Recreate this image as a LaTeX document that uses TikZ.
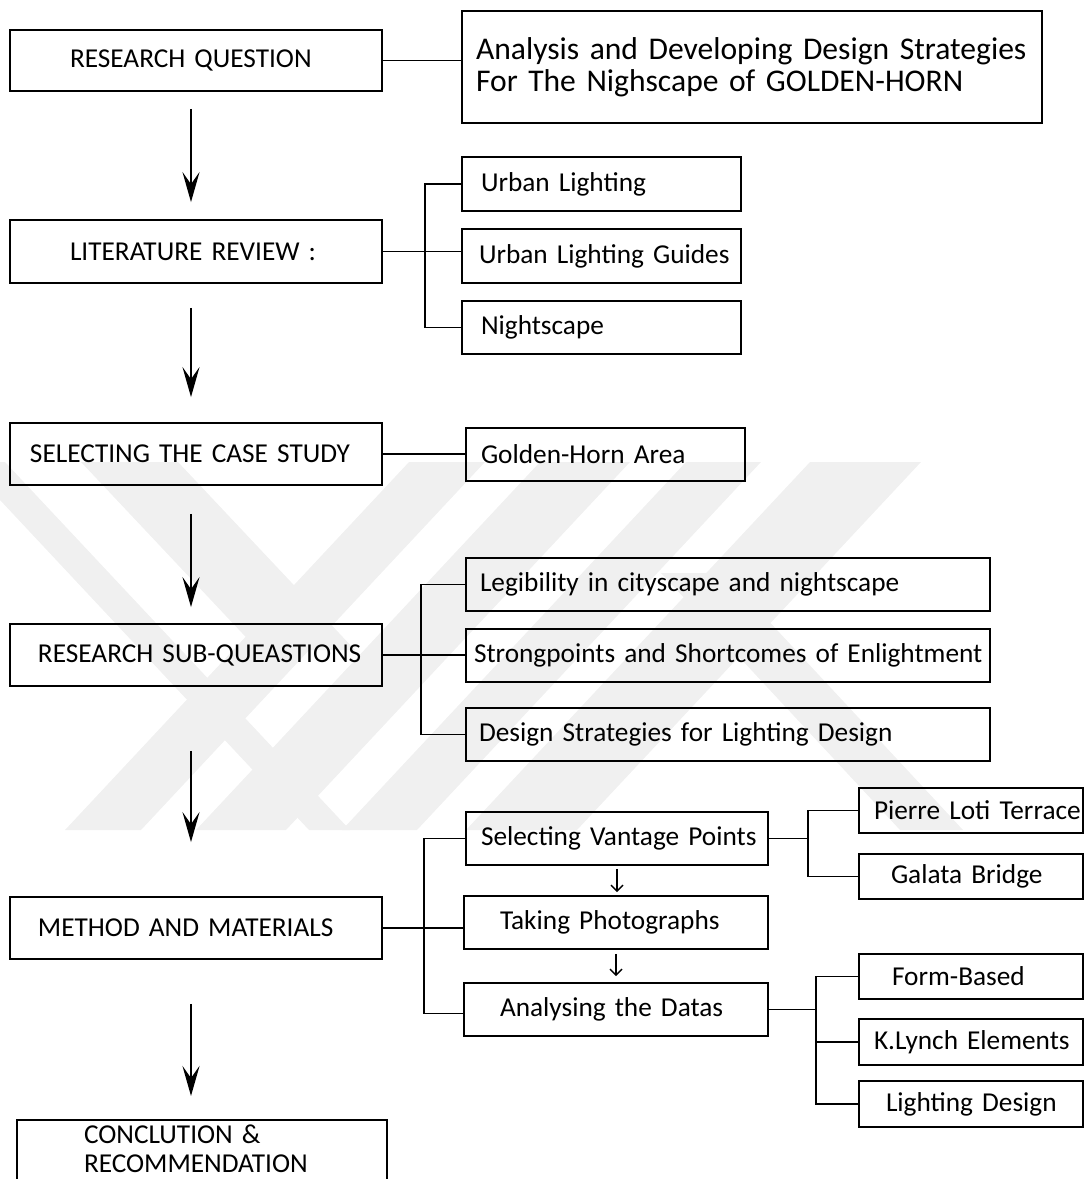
\documentclass[tikz,border=0pt]{standalone}
\usepackage{fontspec}
\setmainfont{Carlito}
\usetikzlibrary{arrows.meta, calc}
\newcommand\boxfont{\fontsize{13.65}{16}\selectfont}
\tikzset{%
    box/.style={draw, line width=0.9pt, align=left, inner ysep=0pt, font=\boxfont},
    bx/.style n args={3}{box, text width=#1, inner xsep=#2, minimum height=#3},
    conn/.style={line width=0.8pt},
    bigarr/.style={line width=1.4pt, -{Stealth[length=15pt, width=8.5pt, inset=6pt]}},
    smallarr/.style={line width=0.7pt, -{Straight Barb[length=3pt, width=6pt]}},
    wmark/.style={fill=black!6},
}
\begin{document}
\begin{tikzpicture}[x=0.5pt, y=-0.5pt]
    \useasboundingbox (0,0) rectangle (1084,1179);
    % watermark
    \fill[wmark] (409,462)--(485,462)--(141,830)--(65,830)--cycle;
    \fill[wmark] (540,462)--(630,462)--(286,830)--(196,830)--cycle;
    \fill[wmark] (686,462)--(761,462)--(417,830)--(342,830)--cycle;
    \fill[wmark] (810,462)--(921,462)--(577,830)--(466,830)--cycle;
    \fill[wmark] (0,462)--(5,462)--(350,830)--(309,830)--(0,500)--cycle;
    \fill[wmark] (81,462)--(178,462)--(355,650)--(258,650)--cycle;
    \fill[wmark] (661,573)--(724,573)--(963,830)--(900,830)--cycle;
    % main column
    \coordinate (ax) at (191,0);
    \node[bx={126pt}{30pt}{30.5pt}] (rq) at (196,60.5) {RESEARCH QUESTION};
    \node[bx={276pt}{7pt}{56pt}, font=\fontsize{15.8}{16}\selectfont] (aim) at (752,67)
        {\mbox{Analysis and Developing Design Strategies}\\For The Nighscape of GOLDEN-HORN};
    \node[bx={126pt}{30pt}{31.5pt}] (lit) at (196,251.5) {LITERATURE REVIEW :};
    \node[bx={120.5pt}{9.5pt}{27pt}] (ul1) at (601.5,184) {Urban Lighting};
    \node[bx={122.5pt}{8.5pt}{27pt}] (ul2) at (601.5,256) {\mbox{Urban Lighting Guides}};
    \node[bx={120.5pt}{9.5pt}{26.5pt}] (ns) at (601.5,327.5) {Nightscape};
    \node[bx={166pt}{10pt}{31pt}] (cs) at (196,454) {SELECTING THE CASE STUDY};
    \node[bx={124.5pt}{7.5pt}{26.5pt}] (gh) at (605.5,454.5) {Golden-Horn Area};
    \node[bx={158pt}{14pt}{31pt}] (sq) at (196,655) {\mbox{RESEARCH SUB-QUEASTIONS}};
    \node[bx={248pt}{7pt}{26.5pt}] (leg) at (728,584.5) {Legibility in cityscape and nightscape};
    \node[bx={254pt}{4pt}{26.5pt}] (str) at (728,655.5) {\mbox{Strongpoints and Shortcomes of Enlightment}};
    \node[bx={249pt}{6.5pt}{26.5pt}] (dsg) at (728,734.5) {Design Strategies for Lighting Design};
    \node[bx={158pt}{14pt}{31pt}] (mm) at (196,928) {METHOD AND MATERIALS};
    \node[bx={136pt}{7.5pt}{26.5pt}] (vp) at (617,838.5) {\mbox{Selecting Vantage Points}};
    \node[bx={116pt}{18pt}{26.5pt}] (tp) at (616,922.5) {Taking Photographs};
    \node[bx={116pt}{18pt}{26.5pt}] (ad) at (616,1009.5) {Analysing the Datas};
    \node[bx={97pt}{7.5pt}{22.5pt}] (plt) at (971,810.5) {\mbox{Pierre Loti Terrace}};
    \node[bx={80pt}{16pt}{22.5pt}] (gb) at (971,876.5) {Galata Bridge};
    \node[bx={79pt}{16.5pt}{22.5pt}] (fb) at (971,976.5) {Form-Based};
    \node[bx={97pt}{7.5pt}{23pt}] (kl) at (971,1042) {\mbox{K.Lynch Elements}};
    \node[bx={85pt}{13.5pt}{23pt}] (ld) at (971,1104) {\mbox{Lighting Design}};
    \node[box, font=\fontsize{13.65}{14.5}\selectfont, text width=118pt, inner xsep=33.5pt, inner ysep=2.5pt,
          text depth=40pt, anchor=north] (cr) at (202,1119) {CONCLUTION \&\\RECOMMENDATION};
    % arrows down the main column
    \draw[bigarr, shorten <=8.5pt, shorten >=8.5pt] (rq.south -| ax) -- (lit.north -| ax);
    \draw[bigarr, shorten <=12pt, shorten >=12.5pt] (lit.south -| ax) -- (cs.north -| ax);
    \draw[bigarr, shorten <=14pt, shorten >=8pt] (cs.south -| ax) -- (sq.north -| ax);
    \draw[bigarr, shorten <=32pt, shorten >=27pt] (sq.south -| ax) -- (mm.north -| ax);
    \draw[bigarr, shorten <=22pt, shorten >=11.5pt] (mm.south -| ax) -- (cr.north -| ax);
    % branches
    \draw[conn] (rq.east) -- (rq.east -| aim.west);
    \draw[conn] (lit.east) -- (lit.east -| ul2.west);
    \draw[conn] (ul1.west) -- ++(-18pt,0) |- (ns.west);
    \draw[conn] (cs.east) -- (cs.east -| gh.west);
    \draw[conn] (sq.east) -- (sq.east -| str.west);
    \draw[conn] (leg.west) -- ++(-22pt,0) |- (dsg.west);
    \draw[conn] (mm.east) -- (mm.east -| tp.west);
    \draw[conn] (vp.west) -- ++(-20.5pt,0) |- ([yshift=-2pt]ad.west);
    \draw[conn] (vp.east) -- ([xshift=-25pt]vp.east -| plt.west);
    \draw[conn] (plt.west) -- ++(-25pt,0) |- (gb.west);
    \draw[conn] (ad.east) -- ([xshift=-21pt]ad.east -| kl.west);
    \draw[conn] (fb.west) -- ++(-21pt,0) |- (ld.west);
    \draw[conn] (kl.west) -- ++(-21pt,0);
    \draw[smallarr, shorten <=1.5pt, shorten >=1.5pt] (vp.south) -- (tp.north -| vp.south);
    \draw[smallarr, shorten <=2pt, shorten >=3pt] (tp.south) -- (ad.north);
\end{tikzpicture}
\end{document}
